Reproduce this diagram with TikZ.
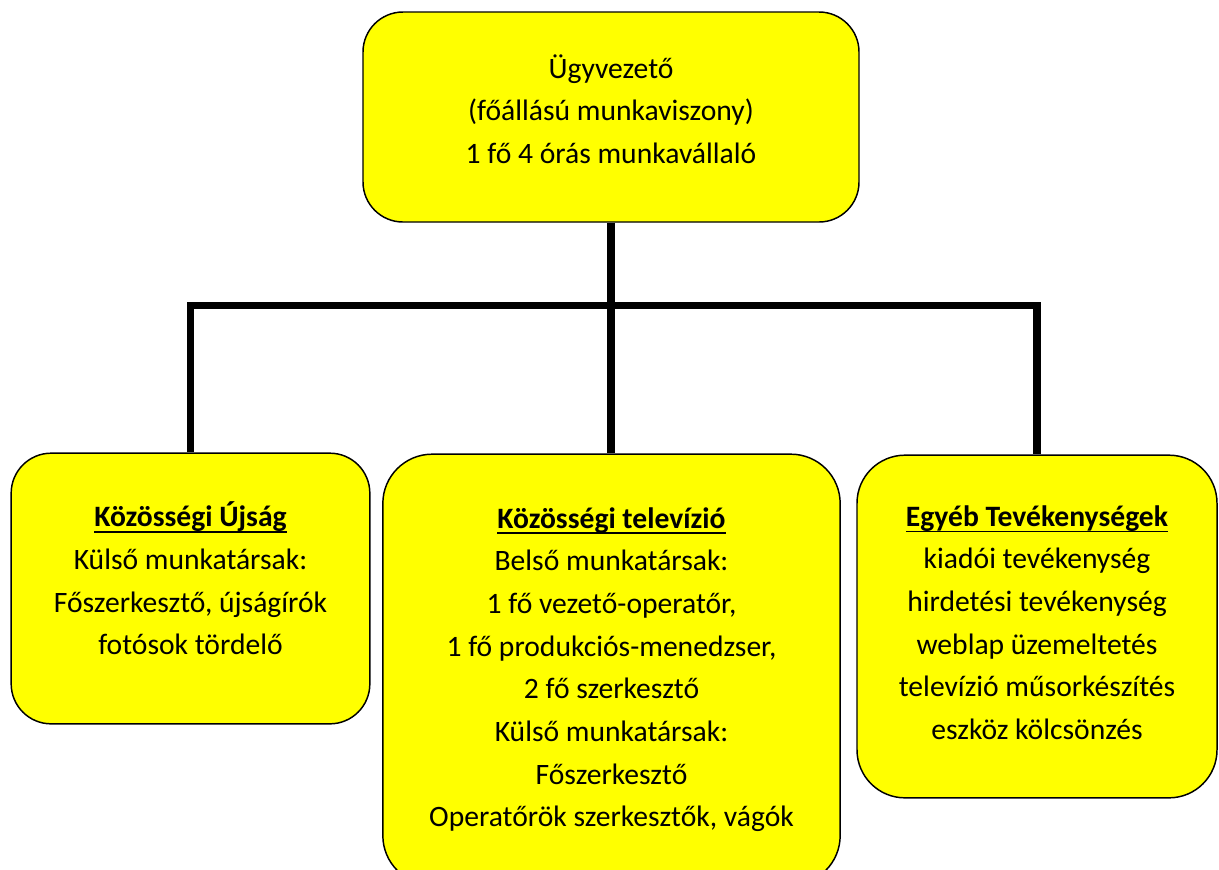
\documentclass[tikz,border=0pt]{standalone}
\usepackage{fontspec}
\setmainfont{Carlito}
\usepackage{tikz}

\definecolor{boxyellow}{RGB}{255,255,0}

% bold heading with a thick underline
\newcommand{\headline}[1]{\setbox0\hbox{\textbf{#1}}\rlap{\textbf{#1}}\rule[-4.5pt]{\wd0}{1.3pt}}
% empty space under the last line, lifts the text a little
\newcommand{\padbelow}[1]{\rule[-#1]{0pt}{#1}}

\begin{document}
\begin{tikzpicture}[x=0.75pt, y=-0.75pt,
        unit/.style={rectangle, draw=black, line width=1.1pt, fill=boxyellow, rounded corners=30pt,
            align=center, inner sep=0pt, font=\fontsize{22.2}{32}\selectfont},
        conn/.style={draw=black, line width=5.3pt}]

    \useasboundingbox (0,0) rectangle (1219,869);

    \node (ceo) [unit, minimum width=372pt, minimum height=157.5pt] at (611,117)
        {Ügyvezető\\(főállású munkaviszony)\\1 fő 4 órás munkavállaló\padbelow{12pt}};

    \node (ujsag) [unit, minimum width=269pt, minimum height=203pt] at (190.5,588.5)
        {\headline{Közösségi Újság}\\Külső munkatársak:\\Főszerkesztő, újságírók\\fotósok tördelő\padbelow{15pt}};
    \node (tv) [unit, minimum width=343pt, minimum height=323pt, rounded corners=37pt] at (611.5,669.5)
        {\headline{Közösségi televízió}\\Belső munkatársak:\\1 fő vezető-operatőr,\\1 fő produkciós-menedzser,\\2 fő szerkesztő\\Külső munkatársak:\\Főszerkesztő\\Operatőrök szerkesztők, vágók};
    \node (egyeb) [unit, minimum width=270pt, minimum height=257pt, rounded corners=36pt] at (1037,626.5)
        {\headline{Egyéb Tevékenységek}\\kiadói tevékenység\\hirdetési tevékenység\\weblap üzemeltetés\\televízió műsorkészítés\\eszköz kölcsönzés\padbelow{6pt}};

    \coordinate (bar) at (0,305.5);

    \draw [conn] (ceo.south) -- (ceo.south |- tv.north);
    \draw [conn] (ujsag.north) -- (ujsag.north |- bar) -- (egyeb.north |- bar) -- (egyeb.north);
\end{tikzpicture}
\end{document}
